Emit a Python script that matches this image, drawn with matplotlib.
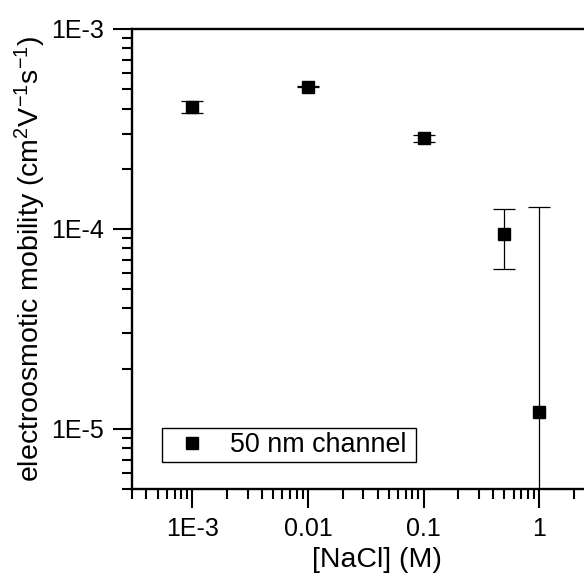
import matplotlib
matplotlib.use("Agg")
import matplotlib.pyplot as plt
from matplotlib import ticker
import numpy as np

plt.rcParams['font.family'] = ['Liberation Sans', 'DejaVu Sans']
plt.rcParams['mathtext.fontset'] = 'custom'
plt.rcParams['mathtext.rm'] = 'Liberation Sans'
plt.rcParams['mathtext.it'] = 'Liberation Sans'

# data
conc = [1e-3, 1e-2, 1e-1, 0.5, 1.0]
mobility = [4.06e-4, 5.14e-4, 2.84e-4, 9.48e-5, 1.216e-5]
err_low = [0.26e-4, 0.02e-4, 0.13e-4, 3.19e-5, 1.2159e-5]
err_high = [0.30e-4, 0.02e-4, 0.11e-4, 3.06e-5, 11.66e-5]
series_label = "50 nm channel"
x_tick_vals = [1e-3, 1e-2, 1e-1, 1]
x_tick_labels = ["1E-3", "0.01", "0.1", "1"]
y_tick_vals = [1e-5, 1e-4, 1e-3]
y_tick_labels = ["1E-5", "1E-4", "1E-3"]

fig = plt.figure(figsize=(5.84, 5.79), dpi=100)
ax = fig.add_axes([132/584, 90/579, 522.8/584, 460/579])

ax.errorbar(conc, mobility, yerr=[err_low, err_high], fmt='none', ecolor='black',
            elinewidth=0.9, capsize=8, capthick=0.9, zorder=2)
ax.plot(conc, mobility, linestyle='none', marker='s', color='black',
        markersize=8.8, label=series_label, zorder=3)

ax.set_xscale('log')
ax.set_yscale('log')
ax.set_xlim(3e-4, 10)
ax.set_ylim(5e-6, 1e-3)

ax.xaxis.set_major_locator(ticker.FixedLocator(x_tick_vals))
ax.xaxis.set_major_formatter(ticker.FixedFormatter(x_tick_labels))
ax.xaxis.set_minor_locator(ticker.LogLocator(base=10, subs=np.arange(2, 10), numticks=20))
ax.xaxis.set_minor_formatter(ticker.NullFormatter())
ax.yaxis.set_major_locator(ticker.FixedLocator(y_tick_vals))
ax.yaxis.set_major_formatter(ticker.FixedFormatter(y_tick_labels))
ax.yaxis.set_minor_locator(ticker.LogLocator(base=10, subs=np.arange(2, 10), numticks=20))
ax.yaxis.set_minor_formatter(ticker.NullFormatter())

ax.tick_params(which='major', direction='out', length=14, width=1.5, labelsize=18, pad=6,
               top=False, right=False)
ax.tick_params(which='minor', direction='out', length=7, width=1.5, top=False, right=False)

for s in ['left', 'bottom', 'top']:
    ax.spines[s].set_linewidth(1.7)
ax.spines['right'].set_visible(False)

ax.set_xlabel("[NaCl] (M)", fontsize=20.5)
ax.xaxis.set_label_coords((376.7 - 132) / 522.8, (489 - 547) / 460)
ax.set_ylabel("electroosmotic mobility (cm$^2$V$^{-1}$s$^{-1}$)", fontsize=20.5)
ax.yaxis.set_label_coords((48 - 132) / 522.8, 0.5)

leg_x0 = (161.7 - 132) / 522.8
leg_y1 = (489 - 428.3) / 460
leg_w = (416.4 - 161.7) / 522.8
leg = ax.legend(loc='upper left', bbox_to_anchor=(leg_x0, leg_y1 - 0.1, leg_w, 0.1),
                mode='expand', borderaxespad=0, fancybox=False, edgecolor='black',
                fontsize=19.4, handlelength=2.0, handletextpad=0.4, borderpad=0.14,
                framealpha=1)
leg.get_frame().set_linewidth(1.0)

fig.savefig("out.png", dpi=100)
